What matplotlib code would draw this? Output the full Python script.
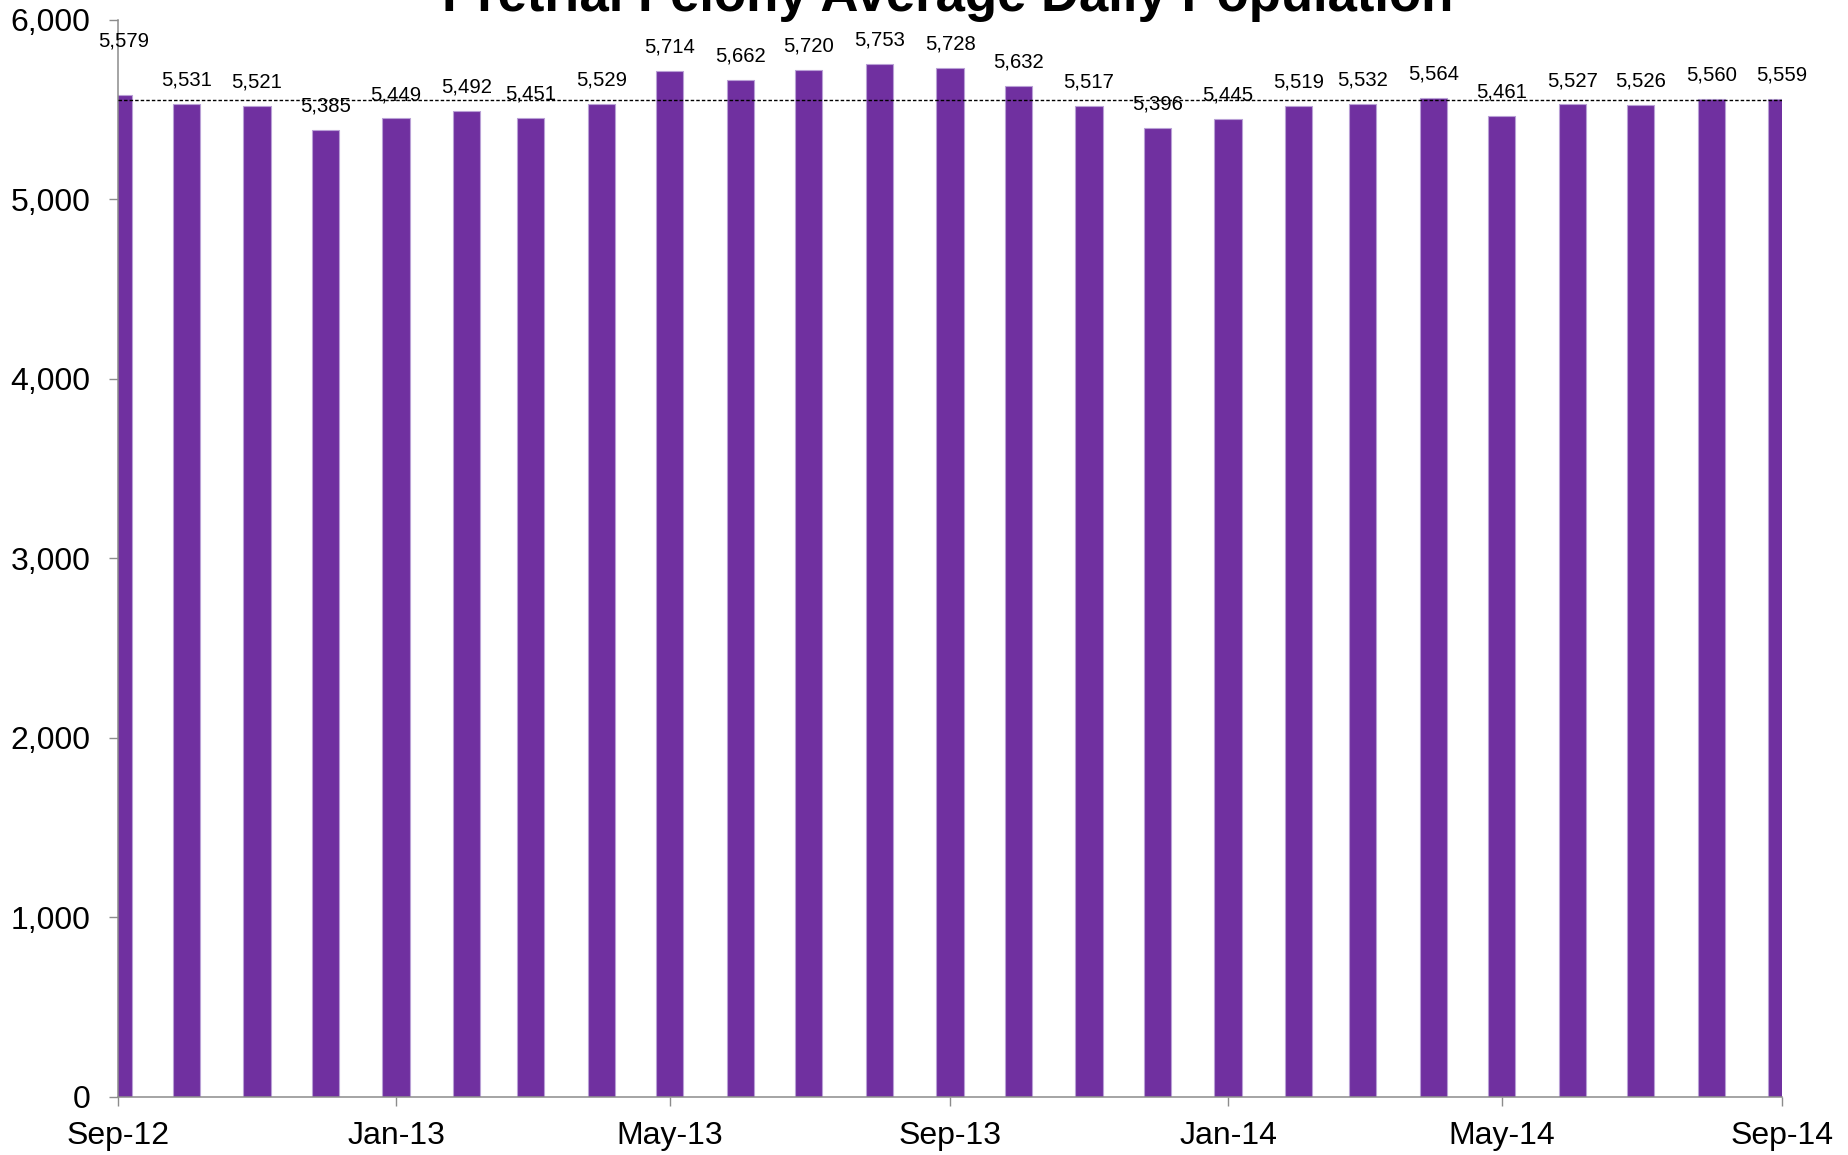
import matplotlib
matplotlib.use('Agg')
import matplotlib.pyplot as plt
import matplotlib.dates as mdates
from matplotlib.ticker import FuncFormatter
import pandas as pd

# Pretrial felony ADP, monthly Sep-12 .. Sep-14
months = pd.date_range('2012-09-01', '2014-09-01', freq='MS')
adp = [5579, 5531, 5521, 5385, 5449, 5492, 5451, 5529, 5714, 5662, 5720, 5753,
       5728, 5632, 5517, 5396, 5445, 5519, 5532, 5564, 5461, 5527, 5526, 5560, 5559]
avg_line = 5550

plt.rcParams['font.family'] = ['Liberation Sans', 'DejaVu Sans']

fig = plt.figure(figsize=(18.49, 11.55), dpi=100)
ax = fig.add_axes([118 / 1849, 1 - 1097 / 1155, (1782 - 118) / 1849, (1097 - 19.5) / 1155])

ax.bar(months, adp, width=12, color='#7030A0', edgecolor='#B9A0D6', linewidth=0.8, zorder=2)
ax.axhline(avg_line, color='black', linestyle=(0, (2.5, 1.5)), linewidth=1, zorder=3)

for i, (d, v) in enumerate(zip(months, adp)):
    off = (3.7, 39) if i == 0 else (0, 17.2)
    ax.annotate(f'{v:,}', (d, v), xytext=off, textcoords='offset points',
                ha='center', va='center', fontsize=14.6, annotation_clip=False)

ax.set_xlim(months[0], months[-1])
ax.set_ylim(0, 6000)
ax.set_yticks(range(0, 6001, 1000))
ax.yaxis.set_major_formatter(FuncFormatter(lambda x, p: f'{x:,.0f}'))
ax.xaxis.set_major_locator(mdates.MonthLocator(bymonth=[1, 5, 9]))
ax.xaxis.set_major_formatter(mdates.DateFormatter('%b-%y'))

for s in ['top', 'right']:
    ax.spines[s].set_visible(False)
for s in ['left', 'bottom']:
    ax.spines[s].set_color('#8C8C8C')
    ax.spines[s].set_linewidth(1.1)

ax.tick_params(axis='y', direction='out', length=6.5, width=1, color='#8C8C8C', labelsize=23, pad=13.5)
ax.tick_params(axis='x', direction='out', length=6.5, width=1, color='#8C8C8C', labelsize=23, pad=11)

fig.text(948 / 1849, 1 - 11 / 1155, 'Pretrial Felony Average Daily Population',
         ha='center', va='baseline', fontsize=38, fontweight='bold')

plt.savefig('out.png', dpi=100)
